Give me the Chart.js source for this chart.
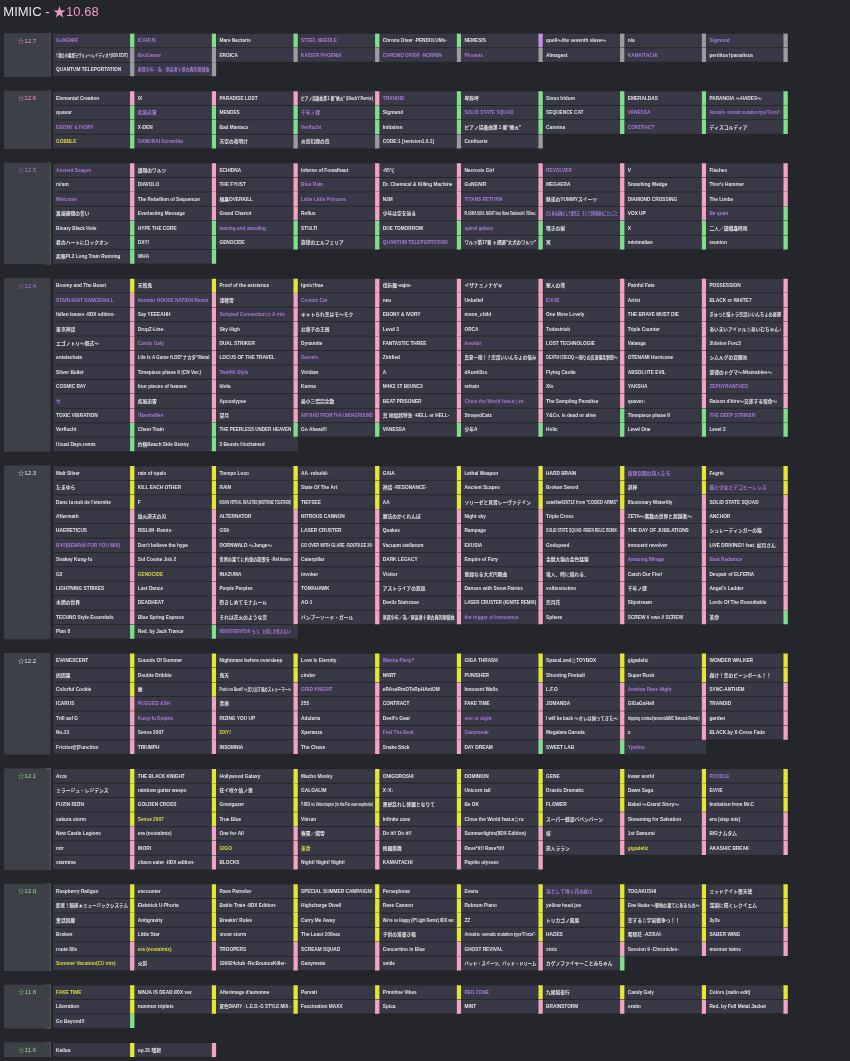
<!DOCTYPE html>
<html>
<head>
<meta charset="utf-8">
<script src="https://cdn.jsdelivr.net/npm/chart.js@4.4.1/dist/chart.umd.min.js"></script>
<style>
  html, body { margin: 0; padding: 0; background: #25262c; }
  canvas { display: block; }
</style>
</head>
<body>
<canvas id="grid" width="850" height="1061"></canvas>
<script>
// ---------- Data ----------
const title = "MIMIC - ";
const titleRate = "★10.68";

const levels = ["☆12.7", "☆12.6", "☆12.5", "☆12.4", "☆12.3", "☆12.2", "☆12.1", "☆12.0", "☆11.8", "☆11.6"];
const levelTones = ["p", "p", "v", "v", "w", "w", "g", "g", "g", "g"];
const levelLamps = ["w", "w", "g", "n", "n", "n", "p", "g", "g", "p"];

const songs127 = [
  "GoNGNIR", "ICARUS", "Mare Nectaris", "STEEL NEEDLE", "Chrono Diver -PENDULUMs-", "NEMESIS", "quell～the seventh slave～", "n/a", "Sigmund",
  "†渚の小悪魔ラヴリィ～レイディオ†(IIDX EDIT)", "BroGamer", "EROICA", "KAISER PHOENIX", "CHRONO DIVER -NORNIR-", "Phoenix", "Almagest", "KAMAITACHI", "perditus†paradisus",
  "QUANTUM TELEPORTATION", "原罪少年／為／原長者十原古典的閉鎖曲",
];
const lamps127 = "gggggvwww wwwwwwwww ww";
const tones127 = "vvwvwwwwv wvwvvvwvw wv";

const songs126 = [
  "Elemental Creation", "IX", "PARADISE LOST", "ピアノ協奏曲第１番\"蠍火\" (BlackY Remix)", "TRANOID", "卑弥呼", "Sinus Iridum", "EMERALDAS", "PARANOIA ～HADES～",
  "quasar", "疾風迅雷", "MENDES", "千年ノ理", "Sigmund", "SOLID STATE SQUAD", "SEQUENCE CAT", "VANESSA", "Anisakis -somatic mutation type\"Forza\"-",
  "EBONY & IVORY", "X-DEN", "Bad Maniacs", "Verflucht", "Initiation", "ピアノ協奏曲第１番\"蠍火\"", "Carmina", "CONTRACT", "ディスコルディア",
  "GOBBLE", "SAMURAI-Scramble", "天空の夜明け", "炎影幻魔の章", "CODE:1 [revision1.0.1]", "Confiserie",
];
const lamps126 = "ppppggggg ggggggggg ggggggggg ggwwww";
const tones126 = "wwwwvwwww wvwvwvwvv vwwvwwwvw yvwwww";

const songs125 = [
  "Ancient Scapes", "銀嶺のワルツ", "ECHIDNA", "Inferno of Fomalhaut", "-65℃", "Necrosis Girl", "REVOLVER", "V", "Flashes",
  "ra'am", "DIAVOLO", "THE FYUST", "Blue Rain", "Dr. Chemical & Killing Machine", "GuNGNiR", "MEGAERA", "Smashing Wedge", "Thor's Hammer",
  "Welcome", "The Rebellion of Sequencer", "極悪OVERKILL", "Little Little Princess", "N2M", "TITANS RETURN", "魅惑のYUMMYスイーツ", "DIAMOND CROSSING", "The Limbo",
  "異端審問の誓い", "Everlasting Message", "Grand Chariot", "Reflux", "少年は空を辿る", "PLASMA SOUL NIGHT feat. Nana Takahashi / 709sec.", "立ち昇る最後として誕生式、そして世界最新のことにこと", "VOX UP", "Be quiet",
  "Binary Black Hole", "HYPE THE CORE", "waxing and wanding", "STULTI", "DUE TOMORROW", "spiral galaxy", "嘆きの樹", "X", "二人／旗幟蟲時雨",
  "君のハートにロックオン", "DXY!", "GENOCIDE", "旋律のエルフェリア", "QUANTUM TELEPORTATION", "ワルツ第17番 ト短調\"大犬のワルツ\"", "冥", "minimalian", "reunion",
  "疾駆PL2 Long Train Running", "WHA",
];
const lamps125 = "ppppppppp ppppppppp ppppppppp ppppppppg ggggggggg ggggggggg gg";
const tones125 = "vwwwwwvww wwwvwwwww vwwvwvwww wwwwwwvwv wwvwwvwww wwwwvwwww ww";

const songs124 = [
  "Boomy and The Beast", "天照鬼", "Proof of the existence", "Ignis†Irae", "伐折羅-vajra-", "イザナミノナゲキ", "聖人の塔", "Painful Fate", "POSSESSION",
  "STARLIGHT DANCEHALL", "thunder HOUSE NATION Remix", "津軽雪", "Cosmic Cat", "neu", "Unbelief", "E/Λ'IE", "Artist", "BLACK or WHITE?",
  "fallen leaves -IIDX edition-", "Say YEEEAHH", "Scripted Connection⇒ A mix", "キャトられ恋はモ～モク", "EBONY & IVORY", "moon_child", "One More Lovely", "THE BRAVE MUST DIE", "ぎゅっと猫トラ恋話いいんちょの憂鬱",
  "東京神話", "DropZ-Line-", "Sky High", "お菓子の王国", "Level 3", "ORCA", "Todestrieb", "Triple Counter", "あいまいアイドル☆あいむちゃん♪",
  "エゴノトリ～既式～", "Candy Galy", "DUAL STRIKER", "Dynamite", "FANTASTIC THREE", "invoker", "LOST TECHNOLOGIE", "Valanga", "3!dolon Forc3",
  "entelecheia", "Life Is A Game ft.DD\"ナカタ\"Metal", "LOCUS OF THE TRAVEL", "Secrets", "Zirkfied", "真夏一陣！？恋話いいんちょの悩み", "DEATH†ZIGOQ ～怒りの高速爆走野郎～", "OTENAMI Hurricane", "シムルグの目醒め",
  "Silver Bullet", "Timepiece phase II (CN Ver.)", "Twelfth Style", "Viridian", "A", "dAuntl3ss", "Flying Castle", "ABSOLUTE EVIL", "旋律のドグマ～Misérables～",
  "COSMIC RAY", "four pieces of heaven", "Idola", "Karma", "M4K3 1T B0UNC3", "refrain", "Xlo", "YAKSHA", "ZEPHYRANTHES",
  "サ", "疾風迅雷", "Apocalypse", "最小三倍完全数", "BEAT PRISONER", "Close the World feat.a☆ru", "The Sampling Paradise", "quaver♪", "Raison d'être～交差する宿命～",
  "TOXIC VIBRATION", "Übertreffen", "望月", "AIR RAID FROM THA UNDAGROUND", "真 地獄超特急 -HELL or HELL-", "StrayedCatz", "Y&Co. is dead or alive", "Timepiece phase II", "THE DEEP STRIKER",
  "Verflucht", "Cheer Train", "THE PEERLESS UNDER HEAVEN", "Go Ahead!!", "VANESSA", "少年A", "Holic", "Level One", "Level 2",
  "Usual Days.remix", "灼熱Beach Side Bunny", "2 Beasts Unchained",
];
const lamps124 = "yyypppppp ppppppppp ppppppppp ppppppppp ppppppppp ppppppppp ppppppppp ppppppppp ppppppppp ppppppggg ggggggggg ggn";
const tones124 = "wwwwwwwww vvwvwwvww wwvwwwwww wwwwwwwww wvwwwvwww wwwvwwwww wwvwwwwww wwwwwwwwv vwwwwvwww wvwvwwwwv wwwwwwwww www";

const songs123 = [
  "Malt Silver", "rain of opals", "Tiempo Loco", "AA -rebuild-", "GAIA", "Lethal Weapon", "HARD BRAIN", "仮想空間の旅人たち", "Fegrix",
  "たまゆら", "KILL EACH OTHER", "RAIN", "State Of The Art", "神話 -RESONANCE-", "Ancient Scapes", "Broken Sword", "遊神", "猫と少女とデコヒーレンス",
  "Dans la nuit de l'eternite", "F", "KISHIN VIRTUAL REALITIES (MISTRONE TOGETHER)", "TIEFSEE", "AA", "ソリーゼと見習レーヴァテイン", "satellite020712 from \"CODED ARMS\"", "Illusionary Waterlily", "SOLID STATE SQUAD",
  "Aftermath", "焔火遊天の刃", "ALTERNATOR", "NITROUS CANNON", "魔法のかくれんぼ", "Night sky", "Triple Cross", "ZETA～素数の世界と超越者～", "ANCHOR",
  "HAERETICUS", "RISLIM -Remix-", "GS9", "LASER CRUSTER", "Quakes", "Rampage", "SOLID STATE SQUAD -RISEN RELIC REMIX-", "THE DAY OF JUBILATIONS", "シュレーディンガーの猫",
  "B4U(BEMANI FOR YOU MIX)", "Don't believe the hype", "DORNWALD ～Junge～", "GO OVER WITH GLARE -ROOTAGE 26-", "Vacuum stellarum", "EXUSIA", "Godspeed", "innocent revolver", "LIVE DRIVING!! feat. 如月さん",
  "Snakey Kung-fu", "Sol Cosine Job 2", "世界の果てに約束の凱歌を -ReUnion-", "Caterpillar", "DARK LEGACY", "Empire of Fury", "金獣大猿の金色猛猿", "Amazing Mirage", "Beat Radiance",
  "G2", "GENOCIDE", "INAZUMA", "invoker", "Visitor", "華麗なる大犬円舞曲", "竜人、時に揺れる。", "Catch Our Fire!", "Despair of ELFERIA",
  "LIGHTNING STRIKES", "Last Dance", "Purple Perplex", "TOMAHAWK", "アストライアの双皿", "Dances with Snow Fairies", "voltississimo", "千年ノ理", "Angel's Ladder",
  "水鏡の世界", "DEADHEAT", "抱きしめてモナムール", "AO-1", "Devilz Staircase", "LASER CRUSTER (IGNITE REMIX)", "恋月花", "Slipstream", "Lords Of The Roundtable",
  "TECHNO Style Essentials", "Blue Spring Express", "それは花火のような恋", "バンブーソード・ガール", "原罪少年／為／原長者十原古典的閉鎖曲", "the trigger of innocence", "Sphere", "SCREW // owo // SCREW", "革命",
  "Plan 8", "Red. by Jack Trance", "NEWGENERATION -もう、お前しか見えない-",
];
const lamps123 = "yyyyyyyyy yyyyyyyyy yyyyyyypp ppppppppp ppppppppp ppppppppp ppppppppp ppppppppp ppppppppp ppppppppp ppppppppg ggn";
const tones123 = "wwwwwwwvw wwwwwwwwv wwwwwwwww wwwwwwwww wwwwwwwww vwwwwwwww wwwwwwwvv wywwwwwww wwwwwwwww wwwwwwwww wwwwwvwww wwv";

const songs122 = [
  "EVANESCENT", "Sounds Of Summer", "Nightmare before oversleep", "Love Is Eternity", "Wanna Party?", "GIGA THRASH", "SpaceLand☆TOYBOX", "gigadelic", "WONDER WALKER",
  "凶因果", "Double Dribble", "鬼天", "cinder", "NNRT", "PUNISHER", "Shooting Fireball", "Super Rush", "轟け！恋のビーンボール！！",
  "Colorful Cookie", "蠍", "Push on Beat!! ～走り出す風のストリーマー～", "GRID KNIGHT", "eRAseRmOToRpHAntOM", "Innocent Walls", "L.F.O", "Arabian Rave Night", "SYNC-ANTHEM",
  "ICARUS", "RUGGED ASH", "音楽", "255", "CONTRACT", "FAKE TIME", "JOMANDA", "GIGaGaHell", "TRANOID",
  "Trill auf G", "Kung-fu Empire", "RIZING YOU UP", "Adularia", "Devil's Gear", "one or eight", "I will be back ～オレは帰ってきた～", "tripping contact(teranoid&MC Natsack Remix)", "garden",
  "No.13", "Sense 2007", "DXY!", "Xperanza", "Feel The Beat", "Ganymede", "Megalara Garuda", "≠", "BLACK.by X-Cross Fade",
  "Friction[!]Function", "TRIUMPH", "INSOMNIA", "The Chase", "Snake Stick", "DAY DREAM", "SWEET LAB", "Ypsilon",
];
const lamps122 = "yyyyyyyyy yyyyyyyyy yyppppppp ppppppppp ppppppppp ppppppppp pppppggn";
const tones122 = "wwwwvwwww wwwwwwwww wwwvwwwvw wvwwwwwww wvwwwvwww wwywvvwww wwwwwwwv";

const songs121 = [
  "Arca", "THE BLACK KNIGHT", "Hollywood Galaxy", "Macho Monky", "ONIGOROSHI", "DOMINION", "GENE", "lower world", "POODLE",
  "ミラージュ・レジデンス", "rainbow guitar weeps", "狂イ咲ケ焔ノ華", "GALGALIM", "X↑X↓", "Unicorn tail", "Drastic Dramatic", "Dawn Saga", "E/Λ'IE",
  "FUZIN RIZIN", "GOLDEN CROSS", "Gravigazer", "T-REX vs Velociraptor (in the Far east euphoria)", "黒髪乱れし修羅となりて", "Be OK", "FLOWER", "Babel ～Grand Story～", "Invitation from Mr.C",
  "sakura storm", "Sense 2007", "True Blue", "Vitrum", "Infinite cave", "Close the World feat.a☆ru", "スーパー戦湯ババンバーン", "Streaming for Salvation", "era (step mix)",
  "New Castle Legions", "era (nostalmix)", "One for All", "春雷／燐雪", "Do it!! Do it!!", "Summerlights(IIDX Edition)", "桜", "1st Samurai", "BIGナムタム",
  "mtr", "INORI", "GIGO", "革命", "修羅能舞", "Rave*it!! Rave*it!!", "旅人ララン", "gigadelic", "AKASHIC BREAK",
  "starmine", "chaos eater -IIDX edition-", "BLOCKS", "Night! Night! Night!", "KAMAITACHI", "Papilio ulysses",
];
const lamps121 = "yyyyyyyyy yyyyyyyyy yyyyyyyyy yyyyyyppp ppppppppp ppppppppp pppppp";
const tones121 = "wwwwwwwwv wwwwwwwww wwwwwwwww wywwwwwww wwwwwwwww wwyywwwyw wwwwww";

const songs120 = [
  "Raspberry Railgun", "encounter", "Rave Patroller", "SPECIAL SUMMER CAMPAIGN!", "Persephone", "Evans", "凛として咲く花の如く", "TOGAKUSHI", "ミッドナイト堕天使",
  "即席！脳直★ミュージックシステム", "Elektrick U-Phoria", "Battle Train -IIDX Edition-", "Highcharge Divell", "Rave Cannon", "Rubrum Piano", "yellow head joe", "Eine Haube ～聖地の果てにあるもの～", "深淵に輝くレクイエム",
  "童話回廊", "Antigravity", "Breakin' Rules", "Carry Me Away", "We're so Happy (P*Light Remix) IIDX ver.", "ZZ", "トリカゴノ鳳凰", "恋する☆宇宙戦争っ！！", "3y3s",
  "Broken", "Little Star", "snow storm", "The Least 100sec", "子供の落書き帳", "Anisakis -somatic mutation type\"Forza\"-", "HADES", "紫陽花 -AZISAI-", "SABER WING",
  "route 80s", "era (nostalmix)", "TROOPERS", "SCREAM SQUAD", "Concertino in Blue", "GHOST REVIVAL", "stoic", "Session 9 -Chronicles-", "murmur twins",
  "Summer Vacation(CU mix)", "火影", "199024club -Re:BounceKiller-", "Ganymede", "smile", "バッド・スイーツ、バッド・ドリーム", "カゲノファイヤーことみちゃん",
];
const lamps120 = "yyyyyyyyy yyyyyyyyy yyyyyyyyy yyyyyyyyp ppppppppp ppppppg";
const tones120 = "wwwwwwvww wwwwwwwww wwwwwwwww wwwwwwwww wywwwwwww ywwwwww";

const songs118 = [
  "FAKE TIME", "NINJA IS DEAD IIDX ver.", "Afterimage d'automne", "Parvati", "Primitive Vibes", "RED ZONE", "九尾狐夜行", "Candy Galy", "Colors (radio edit)",
  "Liberation", "nunmun triplets", "夏色DIARY - L.E.D.-G STYLE MIX -", "Fascination MAXX", "Spica", "MINT", "BRAINSTORM", "oratio", "Red. by Full Metal Jacket",
  "Go Beyond!!",
];
const lamps118 = "yyyyyyyyy yyypppppp g";
const tones118 = "ywwwwvwww wwwwwwwww w";

const songs116 = ["Kailua", "op.31 嘆想"];
const lamps116 = "yp";
const tones116 = "ww";

// ---------- Style ----------
const CELL = "#393846";
const BOX = "#3d4046";
const LAMP = { p: "#f4a3c1", g: "#7fe08b", y: "#e6e634", w: "#9c9c9f", v: "#c690e6", n: CELL };
const TONE = { w: "#e4e4e8", v: "#a97adc", y: "#dcdc3a", p: "#ee9cc6", g: "#8fe08f" };
const FAMILY = '"Liberation Sans", Arial, "Noto Sans CJK JP", sans-serif';
const COLS = 9;

// ---------- Build rows ----------
const sections = [
  [songs127, lamps127, tones127], [songs126, lamps126, tones126], [songs125, lamps125, tones125],
  [songs124, lamps124, tones124], [songs123, lamps123, tones123], [songs122, lamps122, tones122],
  [songs121, lamps121, tones121], [songs120, lamps120, tones120], [songs118, lamps118, tones118],
  [songs116, lamps116, tones116],
];

const cellData = [], stripData = [], boxData = [], boxStripData = [], labelRows = [];
let row = 0;
sections.forEach(([songs, lampStr, toneStr], k) => {
  const lamps = lampStr.replace(/ /g, "");
  const tones = toneStr.replace(/ /g, "");
  const nRows = Math.ceil(songs.length / COLS);
  for (let r = 0; r < nRows; r++) {
    boxData.push({ x: [-0.604, -0.04], y: String(row + r) });
    if (levelLamps[k] !== "n") boxStripData.push({ x: [-0.081, -0.04], y: String(row + r), lamp: levelLamps[k] });
  }
  songs.forEach((name, i) => {
    const c = i % COLS;
    const y = String(row + Math.floor(i / COLS));
    cellData.push({ x: [c, c + 0.94], y, name, tone: tones[i] });
    stripData.push({ x: [c + 0.94, c + 0.99], y, lamp: lamps[i] });
  });
  labelRows.push({ row, text: levels[k], tone: levelTones[k] });
  row += nRows + 1;
});
const rowLabels = Array.from({ length: row - 1 }, (_, i) => String(i));

// ---------- Text plugin ----------
const textPlugin = {
  id: "cellText",
  afterDatasetsDraw(chart) {
    const ctx = chart.ctx;
    const { x: xs, y: ys } = chart.scales;
    ctx.save();
    ctx.font = "bold 4.75px " + FAMILY;
    ctx.textBaseline = "middle";
    chart.getDatasetMeta(2).data.forEach((el, i) => {
      const d = cellData[i];
      ctx.fillStyle = TONE[d.tone];
      ctx.fillText(d.name, el.base + 2.8, el.y + 0.3, el.x - el.base - 5);
    });
    ctx.font = "6.2px " + FAMILY;
    ctx.textAlign = "center";
    labelRows.forEach((l) => {
      ctx.fillStyle = TONE[l.tone];
      ctx.fillText(l.text, xs.getPixelForValue(-0.32), ys.getPixelForValue(l.row) + 0.3);
    });
    ctx.restore();
  },
  afterDraw(chart) {
    const ctx = chart.ctx;
    ctx.save();
    ctx.font = "13px " + FAMILY;
    ctx.textBaseline = "alphabetic";
    ctx.fillStyle = "#e6e6e8";
    ctx.fillText(title, 3.3, 16);
    ctx.fillStyle = "#f29ac6";
    ctx.fillText(titleRate, 3.3 + ctx.measureText(title).width, 16);
    ctx.restore();
  },
};

// ---------- Chart ----------
const common = { grouped: false, categoryPercentage: 1, borderWidth: 0 };
new Chart(document.getElementById("grid"), {
  type: "bar",
  data: {
    labels: rowLabels,
    datasets: [
      { ...common, label: "box", data: boxData, backgroundColor: BOX, barPercentage: 1 },
      { ...common, label: "boxLamp", data: boxStripData, backgroundColor: (c) => LAMP[c.raw.lamp], barPercentage: 1 },
      { ...common, label: "cells", data: cellData, backgroundColor: CELL, barPercentage: 0.93 },
      { ...common, label: "lamps", data: stripData, backgroundColor: (c) => LAMP[c.raw.lamp], barPercentage: 0.93, inflateAmount: 0.3 },
    ],
  },
  options: {
    indexAxis: "y",
    responsive: false,
    animation: false,
    devicePixelRatio: 1,
    events: [],
    layout: { padding: { left: 4, right: 61.7, top: 33.3, bottom: 3.9 } },
    plugins: { legend: { display: false }, tooltip: { enabled: false } },
    scales: {
      x: { type: "linear", min: -0.604, max: 9, display: false },
      y: { type: "category", labels: rowLabels, offset: true, display: false },
    },
  },
  plugins: [textPlugin],
});
</script>
</body>
</html>
